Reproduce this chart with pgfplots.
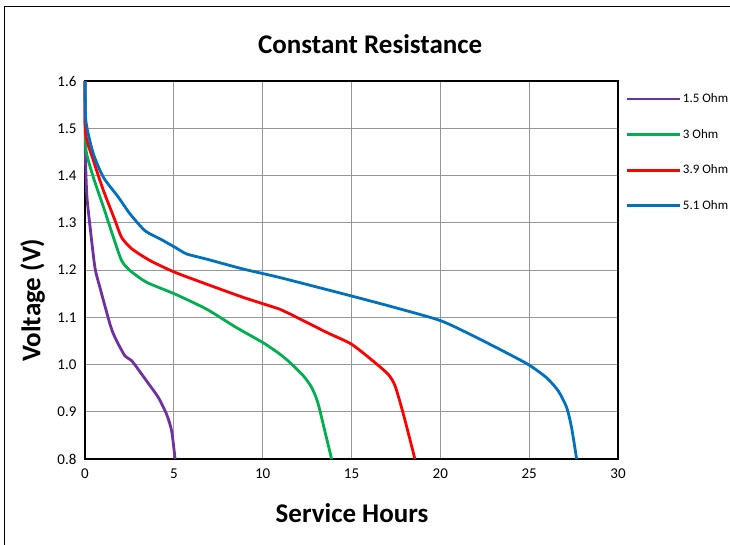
\documentclass[border=0pt]{standalone}
\usepackage{pgfplots}
\pgfplotsset{compat=1.18}
\usepackage{fontspec}
\setmainfont{Carlito}
\definecolor{cpurple}{HTML}{7030A0}
\definecolor{cgreen}{HTML}{00B050}
\definecolor{cred}{HTML}{FF0000}
\definecolor{cblue}{HTML}{0070C0}
\definecolor{cgrid}{HTML}{969696}
\begin{document}
\begin{tikzpicture}
\path[use as bounding box] (-85pt,-85pt) rectangle (645pt,459pt);
\draw[line width=1pt,black] (-80pt,-90pt) -- (-80pt,452pt) -- (650pt,452pt);
\begin{axis}[
  at={(0pt,0pt)}, anchor=south west,
  scale only axis, width=533pt, height=378pt,
  xmin=0, xmax=30, ymin=0.8, ymax=1.6,
  xtick={0,5,...,30}, ytick={0.8,0.9,...,1.61},
  grid=major,
  major grid style={cgrid, line width=0.9pt},
  axis line style={black, line width=2pt},
  major tick length=0pt,
  clip=false,
  /pgf/number format/assume math mode=true,
  yticklabel style={/pgf/number format/fixed, /pgf/number format/fixed zerofill, /pgf/number format/precision=1, font=\fontsize{15}{17}\selectfont, xshift=-5pt},
  xticklabel style={font=\fontsize{15}{17}\selectfont, yshift=-6pt},
  title={\bfseries Constant Resistance},
  title style={font=\fontsize{27}{31}\selectfont, at={(axis description cs:0.535,1.082)}, anchor=center},
  xlabel={\bfseries Service Hours},
  xlabel style={font=\fontsize{27}{31}\selectfont, at={(axis description cs:0.501,-0.143)}, anchor=center},
  ylabel={\bfseries Voltage (V)},
  ylabel style={font=\fontsize{27}{31}\selectfont, at={(axis description cs:-0.098,0.42)}, anchor=center},
  legend style={at={(axis description cs:1.013,0.972)}, anchor=north west, draw=none, fill=none,
    font=\fontsize{13}{15}\selectfont, row sep=21pt, inner xsep=0pt, inner ysep=0pt},
  legend cell align=left,
  legend image code/.code={\draw[#1, line width=2.8pt] (0pt,0pt) -- (53pt,0pt);},
  every axis plot/.append style={line width=2.8pt, line join=round, smooth, tension=0.4},
]
\addplot[cpurple] coordinates {
(0,1.6)(0.02,1.45)(0.1,1.36)(0.26,1.30)(0.56,1.205)(0.84,1.163)(1.41,1.085)(1.69,1.057)(2.25,1.018)(2.63,1.008)(3.47,0.965)(4.13,0.93)(4.6,0.894)(4.88,0.859)(5.07,0.8)};
\addlegendentry{1.5 Ohm}
\addplot[cgreen] coordinates {
(0,1.6)(0.03,1.48)(0.09,1.446)(0.47,1.396)(1.04,1.333)(1.6,1.269)(2.06,1.22)(2.53,1.199)(3.47,1.174)(5.07,1.149)(6.85,1.117)(8.53,1.078)(10.03,1.046)(10.97,1.022)(11.54,1.004)(12.29,0.976)(12.75,0.952)(13.1,0.92)(13.5,0.859)(13.88,0.8)};
\addlegendentry{3 Ohm}
\addplot[cred] coordinates {
(0,1.6)(0.03,1.49)(0.47,1.432)(1.04,1.368)(1.69,1.305)(2.06,1.269)(2.63,1.245)(3.66,1.22)(5.07,1.195)(6.85,1.17)(8.91,1.142)(10.97,1.117)(11.54,1.107)(13.6,1.068)(15.0,1.043)(16.32,1.004)(17.07,0.979)(17.45,0.955)(17.92,0.895)(18.57,0.8)};
\addlegendentry{3.9 Ohm}
\addplot[cblue] coordinates {
(0,1.6)(0.05,1.515)(0.47,1.446)(1.04,1.396)(1.88,1.354)(2.53,1.319)(3.38,1.283)(4.22,1.266)(5.07,1.248)(5.72,1.234)(6.85,1.223)(8.91,1.202)(10.97,1.184)(15.0,1.145)(17.5,1.12)(20.0,1.093)(21.67,1.064)(23.35,1.032)(24.95,1.0)(25.98,0.972)(26.64,0.944)(27.11,0.909)(27.39,0.866)(27.67,0.8)};
\addlegendentry{5.1 Ohm}
\end{axis}
\end{tikzpicture}
\end{document}
